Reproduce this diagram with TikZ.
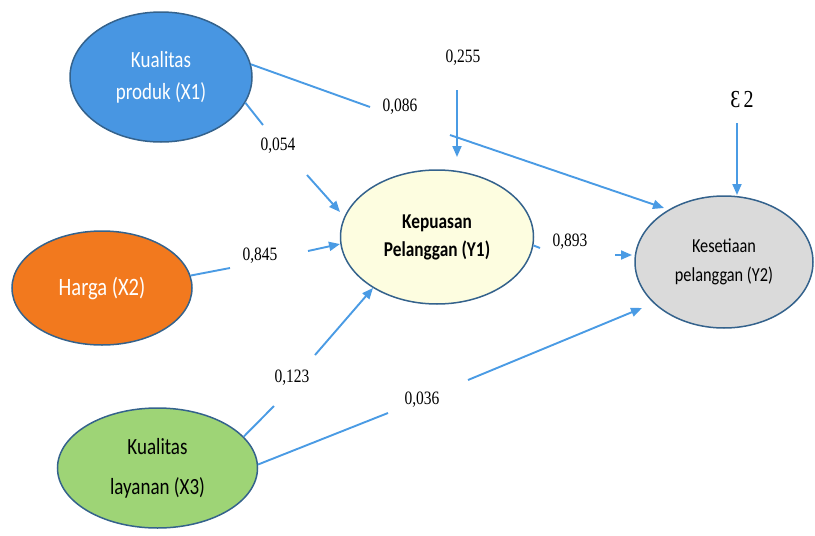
\documentclass[tikz,border=0pt]{standalone}
\usepackage{graphicx}
\usepackage{fontspec}
\setmainfont{Liberation Serif}
\newfontfamily\carl{Carlito}
\usetikzlibrary{shapes.geometric,arrows.meta}
\newcommand{\tall}[1]{\scalebox{1}[1.22]{#1}}
\definecolor{arrowblue}{RGB}{74,155,228}
\definecolor{rim}{RGB}{52,98,140}
\definecolor{xonefill}{RGB}{72,150,226}
\definecolor{xtwofill}{RGB}{242,121,30}
\definecolor{xthreefill}{RGB}{158,212,118}
\definecolor{yonefill}{RGB}{253,253,224}
\definecolor{ytwofill}{RGB}{218,218,218}
\tikzset{
  latent/.style={ellipse, draw=rim, line width=1.5pt, inner sep=0pt, align=center},
  conn/.style={draw=arrowblue, line width=1.9pt},
  arr/.style={conn, -{Triangle[length=11pt,width=9pt]}},
  coef/.style={font=\fontsize{15.5}{18}\selectfont, inner sep=0pt}
}
\begin{document}
\begin{tikzpicture}[x=1pt,y=-1pt]
\useasboundingbox (0,0) rectangle (815,536);
% latent variables
\node[latent, fill=xonefill, minimum width=182pt, minimum height=130pt, text=white,
      font=\carl\fontsize{19}{32}\selectfont] (x1) at (161,77) {\tall{Kualitas}\\\tall{produk (X1)}};
\node[latent, fill=xtwofill, minimum width=180pt, minimum height=114pt, text=white,
      font=\carl\fontsize{20.5}{24}\selectfont] (x2) at (102,288) {\tall{Harga (X2)}};
\node[latent, fill=xthreefill, minimum width=200pt, minimum height=120pt, text=black,
      font=\carl\fontsize{19}{40}\selectfont] (x3) at (157.5,468) {\tall{Kualitas}\\\tall{layanan (X3)}};
\node[latent, fill=yonefill, minimum width=193pt, minimum height=134pt, text=black,
      font=\carl\bfseries\fontsize{17.3}{28}\selectfont] (y1) at (437,237) {\tall{Kepuasan}\\\tall{Pelanggan (Y1)}};
\node[latent, fill=ytwofill, minimum width=178pt, minimum height=132pt, text=black,
      font=\carl\fontsize{16.3}{29}\selectfont] (y2) at (724,262) {\tall{Kesetiaan}\\\tall{pelanggan (Y2)}};
% gap and tip coordinates
\coordinate (a1) at (370,107); \coordinate (a2) at (450,135); \coordinate (t1) at (664,208);
\coordinate (b1) at (263,125); \coordinate (b2) at (307,175); \coordinate (t2) at (340,212);
\coordinate (c1) at (230,268); \coordinate (c2) at (308,251); \coordinate (t3) at (340,244);
\coordinate (d1) at (274,406); \coordinate (d2) at (315,355); \coordinate (t4) at (373,288);
\coordinate (e1) at (388,413); \coordinate (e2) at (468,380); \coordinate (t5) at (642,308);
\coordinate (f1) at (540,248); \coordinate (f2) at (615,255); \coordinate (t6) at (632,255);
\coordinate (g1) at (737,123); \coordinate (t7) at (737,195);
\coordinate (h1) at (457,90);  \coordinate (t8) at (457,157);
% connectors
\draw[conn] (x1.8) -- (a1);   \draw[arr] (a2) -- (t1);
\draw[conn] (x1.-17) -- (b1); \draw[arr] (b2) -- (t2);
\draw[conn] (x2.8) -- (c1);   \draw[arr] (c2) -- (t3);
\draw[conn] (x3.20) -- (d1);  \draw[arr] (d2) -- (t4);
\draw[conn] (x3.2) -- (e1);   \draw[arr] (e2) -- (t5);
\draw[conn] (y1.-5) -- (f1);  \draw[arr] (f2) -- (t6);
\draw[arr] (g1) -- (t7);
\draw[arr] (h1) -- (t8);
% coefficients
\node[coef] (l255) at (463,58) {\tall{0,255}};
\node[coef] (l086) at (400,107) {\tall{0,086}};
\node[coef] (l054) at (278,146) {\tall{0,054}};
\node[coef] (l845) at (260,256) {\tall{0,845}};
\node[coef] (l893) at (570,242) {\tall{0,893}};
\node[coef] (l123) at (292,378) {\tall{0,123}};
\node[coef] (l036) at (422,400) {\tall{0,036}};
\node[inner sep=0pt, font=\fontsize{20}{24}\selectfont] (eps) at (742,100) {\tall{Ɛ\,2}};
\end{tikzpicture}
\end{document}
